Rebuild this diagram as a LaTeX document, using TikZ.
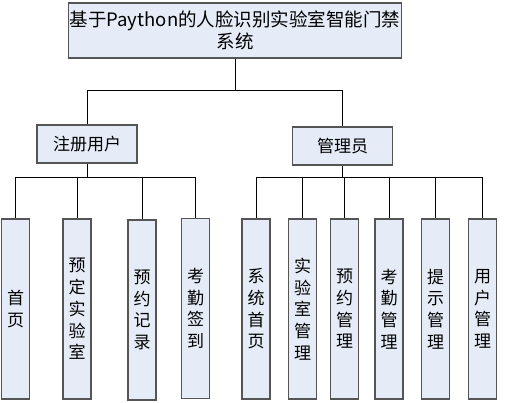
\documentclass[tikz,border=0pt]{standalone}
\usepackage{fontspec}
\setmainfont{Noto Sans CJK SC}
\usepackage{tikz}
\usetikzlibrary{positioning,calc}
\definecolor{palBoxFill}{HTML}{E6ECF7}
\definecolor{palBoxLine}{HTML}{555555}
\tikzset{
  topnode/.style={draw=palBoxLine, fill=palBoxFill, line width=1.1pt,
                  minimum width=333pt, minimum height=55pt, align=center,
                  font=\fontsize{18.5}{22}\selectfont, inner sep=0pt},
  rolenode/.style={draw=palBoxLine, fill=palBoxFill, line width=1.1pt,
                   minimum width=100pt, minimum height=38pt,
                   font=\fontsize{17}{20}\selectfont, inner sep=0pt},
  leafnode/.style={draw=palBoxLine, fill=palBoxFill, line width=1.1pt,
                   minimum width=28pt, minimum height=180pt, align=center,
                   font=\fontsize{17}{21.7}\selectfont, inner sep=0pt},
  treeline/.style={draw=black, line width=0.9pt},
}
\begin{document}
\begin{tikzpicture}[x=1pt, y=-1pt]
\useasboundingbox (0,0) rectangle (506,403);
%% Nodes
\node[topnode] (sys) at (235,30.5) {基于Paython的人脸识别实验室智能门禁\\系统};
\node[rolenode] (reg) at (87,144) {注册用户};
\node[rolenode] (adm) at (342.5,146) {管理员};
% registered user functions
\node[leafnode] (u1) at (15.5,309) {首\\页};
\node[leafnode] (u2) at (77,309) {预\\定\\实\\验\\室};
\node[leafnode] (u3) at (142,310) {预\\约\\记\\录};
\node[leafnode] (u4) at (195.5,308.5) {考\\勤\\签\\到};
% administrator functions
\node[leafnode] (a1) at (256,309) {系\\统\\首\\页};
\node[leafnode] (a2) at (302.5,309) {实\\验\\室\\管\\理};
\node[leafnode] (a3) at (344.5,309) {预\\约\\管\\理};
\node[leafnode] (a4) at (389,309) {考\\勤\\管\\理};
\node[leafnode] (a5) at (435.5,309) {提\\示\\管\\理};
\node[leafnode] (a6) at (482.5,309) {用\\户\\管\\理};
%% Edges
\coordinate (topbus) at (235,90);
\coordinate (subbus) at (235,177);
\draw[treeline] (sys.south) -- (topbus);
\draw[treeline] (reg.north) -- (reg.north |- topbus) -- (adm.north |- topbus) -- (adm.north);
\draw[treeline] (reg.south) -- (reg.south |- subbus);
\draw[treeline] (u1.north |- subbus) -- (u4.north |- subbus);
\foreach \n in {u1,u2,u3,u4}
  \draw[treeline] (\n.north) -- (\n.north |- subbus);
\draw[treeline] (adm.south) -- (adm.south |- subbus);
\draw[treeline] (a1.north |- subbus) -- (a6.north |- subbus);
\foreach \n in {a1,a2,a3,a4,a5,a6}
  \draw[treeline] (\n.north) -- (\n.north |- subbus);
\end{tikzpicture}
\end{document}
